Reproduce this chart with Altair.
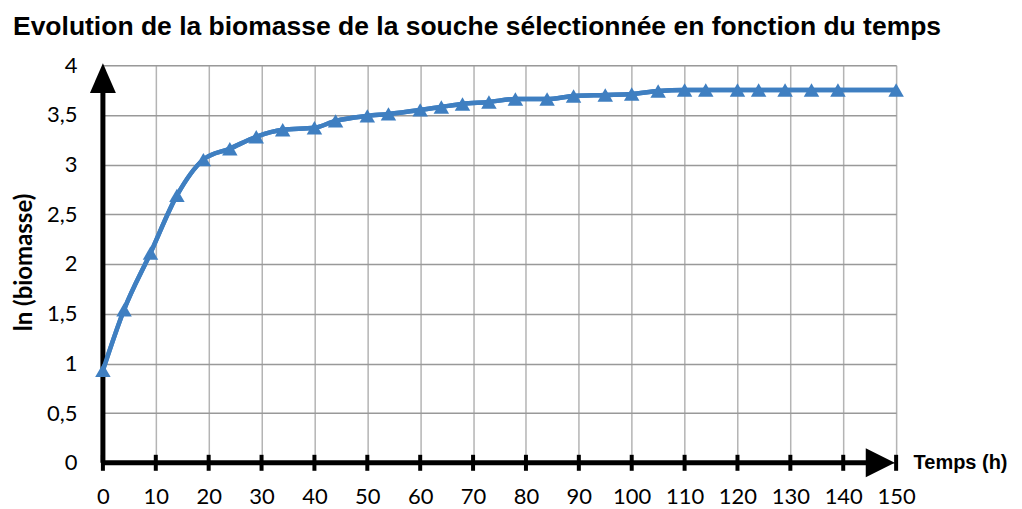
import altair as alt
import pandas as pd

# Data
temps = [0, 4, 9, 14, 19, 24, 29, 34, 40, 44, 50, 54, 60, 64, 68, 73, 78, 84,
         89, 95, 100, 105, 110, 114, 120, 124, 129, 134, 139, 150]
ln_biomasse = [0.93, 1.54, 2.11, 2.69, 3.05, 3.16, 3.28, 3.35, 3.37, 3.44, 3.49,
               3.51, 3.55, 3.58, 3.61, 3.63, 3.66, 3.66, 3.69, 3.70, 3.71, 3.74,
               3.75, 3.75, 3.75, 3.75, 3.75, 3.75, 3.75, 3.75]
x_ticks = [0, 10, 20, 30, 40, 50, 60, 70, 80, 90, 100, 110, 120, 130, 140, 150]
x_grid = list(range(0, 155, 5))
y_grid = [i * 0.25 for i in range(17)]

df = pd.DataFrame({"t": temps, "y": ln_biomasse})

xs = alt.Scale(domain=[0, 150], nice=False, zero=False)
ys = alt.Scale(domain=[0, 4], nice=False, zero=False)

BLUE = "#3f7fc1"

x_axis = alt.Axis(
    values=x_grid, grid=True, gridColor="#b4b4b4", gridWidth=1.5,
    domain=False, ticks=False,
    labelExpr="datum.value % 10 === 0 ? datum.label : ''",
    labelFont="Lato", labelFontSize=22, labelColor="black", labelPadding=24,
    labelFlush=False, labelOverlap=False,
    title="Temps (h)", titleFont="Liberation Sans", titleFontSize=20,
    titleFontWeight="bold", titleColor="black",
    titleX=811, titleY=0, titleAlign="left", titleBaseline="middle", titleAngle=0,
)
y_axis = alt.Axis(
    values=y_grid, grid=True,
    gridColor={"condition": {"test": "datum.value % 0.5 === 0", "value": "#999999"},
               "value": "#c2c2c2"},
    gridWidth=1.5, domain=False, ticks=False,
    labelExpr="datum.value % 0.5 === 0 ? replace(format(datum.value, '~g'), '.', ',') : ''",
    labelFont="Lato", labelFontSize=22, labelColor="black", labelPadding=26,
    labelFlush=False, labelOverlap=False,
    title="ln (biomasse)", titleFont="Lato", titleFontSize=24,
    titleFontWeight="bold", titleColor="black",
    titleX=-78, titleY=197, titleAlign="center", titleBaseline="middle",
)

base = alt.Chart(df)

line = base.mark_line(color=BLUE, strokeWidth=4.5, interpolate="monotone").encode(
    x=alt.X("t:Q", scale=xs, axis=x_axis),
    y=alt.Y("y:Q", scale=ys, axis=y_axis),
)
pts = base.mark_point(shape="triangle-up", filled=True, size=240, color=BLUE,
                      opacity=1).encode(
    x=alt.X("t:Q", scale=xs), y=alt.Y("y:Q", scale=ys))

# axis lines with arrowheads
xline_df = pd.DataFrame({"x": [0], "x2": [145], "y": [0]})
yline_df = pd.DataFrame({"x": [0], "y": [0], "y2": [3.8]})
xrule = alt.Chart(xline_df).mark_rule(color="black", strokeWidth=5).encode(
    x=alt.X("x:Q", scale=xs), x2="x2:Q", y=alt.Y("y:Q", scale=ys))
yrule = alt.Chart(yline_df).mark_rule(color="black", strokeWidth=5).encode(
    x=alt.X("x:Q", scale=xs), y=alt.Y("y:Q", scale=ys), y2="y2:Q")

ticks_df = pd.DataFrame({"x": x_ticks, "y": [0] * len(x_ticks)})
ticks = alt.Chart(ticks_df).mark_tick(color="black", orient="vertical", size=16,
                                      thickness=4, opacity=1).encode(
    x=alt.X("x:Q", scale=xs), y=alt.Y("y:Q", scale=ys))

arrow_up_df = pd.DataFrame({"x": [0], "y": [3.87]})
arrow_right_df = pd.DataFrame({"x": [147], "y": [0]})
arrow_up = alt.Chart(arrow_up_df).mark_point(
    shape="M0,-1 L0.866,1 L-0.866,1 Z", filled=True, size=900, color="black",
    opacity=1).encode(x=alt.X("x:Q", scale=xs), y=alt.Y("y:Q", scale=ys))
arrow_right = alt.Chart(arrow_right_df).mark_point(
    shape="M1,0 L-1,-1 L-1,1 Z", filled=True, size=841, color="black",
    opacity=1).encode(x=alt.X("x:Q", scale=xs), y=alt.Y("y:Q", scale=ys))

chart = alt.layer(line, xrule, yrule, ticks, arrow_up, arrow_right, line, pts).properties(
    width=794, height=398,
    padding={"left": 95, "top": 57, "right": 118, "bottom": 45},
    autosize=alt.AutoSizeParams(type="none"),
    title=alt.TitleParams(
        text="Evolution de la biomasse de la souche sélectionnée en fonction du temps",
        anchor="start", frame="group", dx=-90, offset=14,
        font="Liberation Sans", fontSize=26.5, fontWeight="bold", color="black",
    ),
).configure_view(stroke=None).configure(background="white")

chart.save("out.html", embed_options={"renderer": "svg", "actions": False})
